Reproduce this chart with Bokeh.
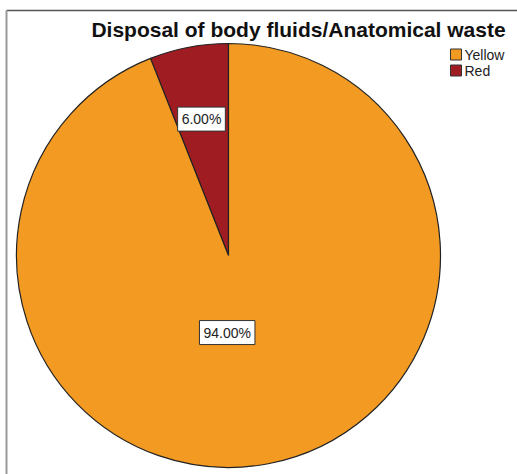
import math
from bokeh.plotting import figure
from bokeh.models import Range1d, ColumnDataSource, Label
from bokeh.core.properties import value
from bokeh.embed import file_html
from bokeh.resources import INLINE

# Chart data
categories = ["Yellow", "Red"]
percentages = [94.0, 6.0]
colors = ["#F39A22", "#9E1C22"]
title_text = "Disposal of body fluids/Anatomical waste"

W, H = 517, 474
p = figure(width=W, height=H, output_backend="svg", toolbar_location=None,
           x_range=Range1d(0, W), y_range=Range1d(0, H), min_border=0)
p.axis.visible = False
p.grid.visible = False
p.outline_line_color = None
p.background_fill_color = "white"

# frame lines (top and left edges of the chart area)
p.segment(x0=[6], y0=[H - 10], x1=[W], y1=[H - 10], line_color="#555555", line_width=1.5)
p.segment(x0=[6], y0=[H - 10], x1=[6], y1=[0], line_color="#999999", line_width=2)

# pie geometry: slices run counter-clockwise from 12 o'clock, Red first
cx, cy, r = 228, H - 255, 212
order = ["Red", "Yellow"]
starts, ends, cols, mids, labs = [], [], [], [], []
acc = 0.0
for name in order:
    i = categories.index(name)
    frac = percentages[i] / 100.0
    a0 = math.pi / 2 + 2 * math.pi * acc
    a1 = math.pi / 2 + 2 * math.pi * (acc + frac)
    starts.append(a0)
    ends.append(a1)
    cols.append(colors[i])
    mids.append((a0 + a1) / 2)
    labs.append(f"{percentages[i]:.2f}%")
    acc += frac

src = ColumnDataSource(dict(start=starts, end=ends, color=cols))
p.wedge(x=cx, y=cy, radius=r, start_angle="start", end_angle="end", direction="anticlock",
        fill_color="color", line_color="#222222", line_width=1.2, source=src)

# percentage labels inside the slices
label_radius = {"Red": 0.655, "Yellow": 0.37}
label_shift = {"Red": -1, "Yellow": -16}
for name, m, t in zip(order, mids, labs):
    rr = r * label_radius[name]
    lx = cx + rr * math.cos(m) + label_shift[name]
    ly = cy + rr * math.sin(m)
    p.add_layout(Label(x=lx, y=ly, text=t, text_align="center", text_baseline="middle",
                       text_font="Liberation Sans", text_font_size="14px", text_color="#222222",
                       background_fill_color="white", border_line_color="#333333",
                       border_line_width=1, padding=4))

# title
p.add_layout(Label(x=298, y=H - 17, text=title_text, text_align="center",
                   text_baseline="top", text_font="Liberation Sans",
                   text_font_style="bold", text_font_size="21px", text_color="#111111"))

# legend
leg = ColumnDataSource(dict(x=[455.5, 455.5], y=[H - 54, H - 70], color=colors, name=categories))
p.rect(x="x", y="y", width=11, height=11, fill_color="color", line_color="#333333",
       line_width=1, source=leg)
p.text(x=464, y="y", text="name", text_font=value("Liberation Sans"), text_font_size="14px",
       text_baseline="middle", text_color="#222222", source=leg)

open("out.html", "w").write(file_html(p, INLINE))
